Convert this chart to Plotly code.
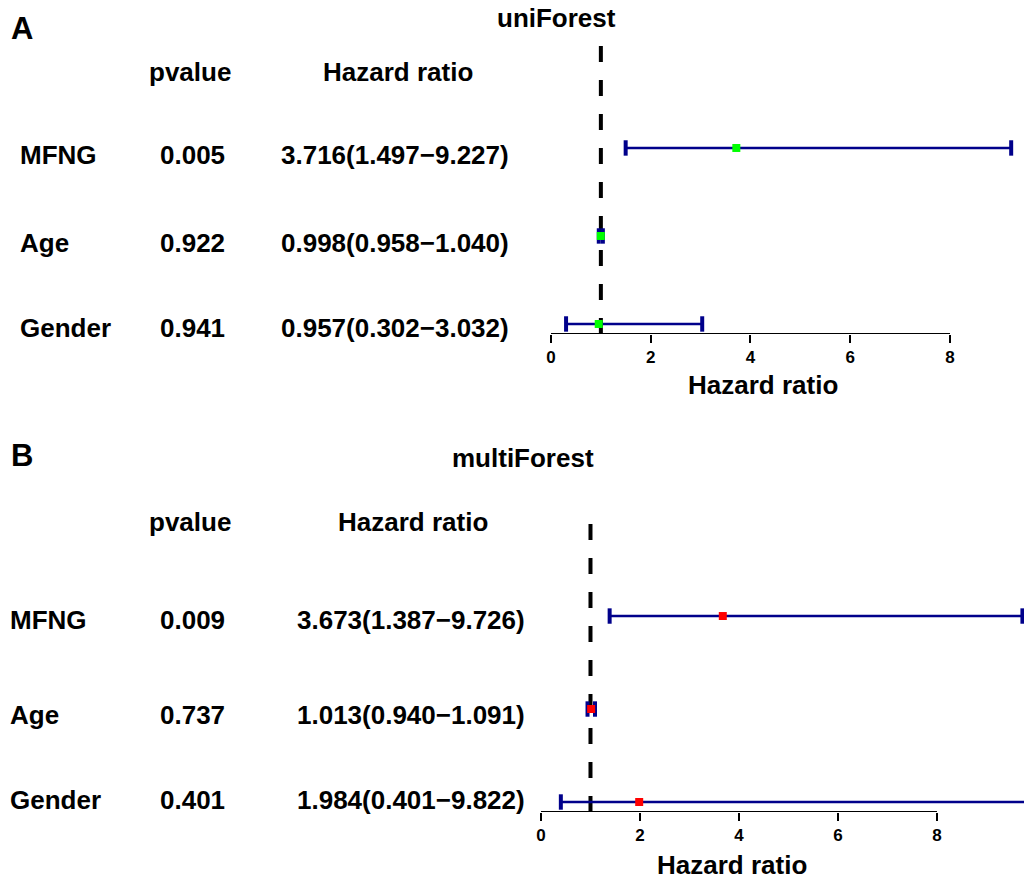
import plotly.graph_objects as go

# ---------------- data ----------------
genes = ["MFNG", "Age", "Gender"]

uni_pvalue = [0.005, 0.922, 0.941]
uni_hr = [3.716, 0.998, 0.957]
uni_low = [1.497, 0.958, 0.302]
uni_high = [9.227, 1.040, 3.032]

multi_pvalue = [0.009, 0.737, 0.401]
multi_hr = [3.673, 1.013, 1.984]
multi_low = [1.387, 0.940, 0.401]
multi_high = [9.726, 1.091, 9.822]

tick_vals = [0, 2, 4, 6, 8]
tick_text = ["0", "2", "4", "6", "8"]

W, H = 1024, 885
FONT = "Liberation Sans, Arial, Helvetica, sans-serif"
BLUE = "#00008B"
FS = 26

def px(x):
    return x / W

def py(y):
    return 1 - y / H

fig = go.Figure()

def add_forest(hr, low, high, mcolor, xa, ya):
    n = len(hr)
    ypos = list(range(n, 0, -1))
    # CI lines
    for i in range(n):
        fig.add_trace(go.Scatter(
            x=[low[i], high[i]], y=[ypos[i], ypos[i]], mode="lines",
            line=dict(color=BLUE, width=2.6), xaxis=xa, yaxis=ya,
            showlegend=False, hoverinfo="skip"))
    # caps
    fig.add_trace(go.Scatter(
        x=low + high, y=ypos + ypos, mode="markers",
        marker=dict(symbol="line-ns", size=11, line=dict(color=BLUE, width=4)),
        xaxis=xa, yaxis=ya, showlegend=False, hoverinfo="skip"))
    # points
    fig.add_trace(go.Scatter(
        x=hr, y=ypos, mode="markers",
        marker=dict(symbol="square", size=8, color=mcolor, line=dict(width=0)),
        xaxis=xa, yaxis=ya, showlegend=False, hoverinfo="skip"))

add_forest(uni_hr, uni_low, uni_high, "#00FF00", "x", "y")
add_forest(multi_hr, multi_low, multi_high, "#FF0000", "x2", "y2")

axis_common = dict(showgrid=False, zeroline=False, showline=False,
                   tickvals=tick_vals, ticktext=[f"<b>{t}</b>" for t in tick_text],
                   ticks="outside", ticklen=8, tickwidth=2, tickcolor="black",
                   tickfont=dict(family=FONT, size=17, color="black"))
yaxis_common = dict(showgrid=False, zeroline=False, showline=False,
                    showticklabels=False, ticks="")

top_yr = [0.886, 4.227]
bot_yr = [0.8925, 4.194]

fig.update_layout(
    width=W, height=H,
    margin=dict(l=0, r=0, t=0, b=0),
    paper_bgcolor="white", plot_bgcolor="white",
    xaxis=dict(domain=[px(530), 1.0], range=[-0.421, 9.484], anchor="y", **axis_common),
    yaxis=dict(domain=[py(334), py(40)], range=top_yr, anchor="x", **yaxis_common),
    xaxis2=dict(domain=[px(520), 1.0], range=[-0.424, 9.758], anchor="y2", **axis_common),
    yaxis2=dict(domain=[py(812), py(505)], range=bot_yr, anchor="x2", **yaxis_common),
)

# axis lines (0..8) and reference dashed lines
fig.add_shape(type="line", xref="x", yref="y", x0=0, x1=8, y0=top_yr[0], y1=top_yr[0],
              line=dict(color="black", width=2))
fig.add_shape(type="line", xref="x2", yref="y2", x0=0, x1=8, y0=bot_yr[0], y1=bot_yr[0],
              line=dict(color="black", width=2))
fig.add_shape(type="line", xref="x", yref="y", x0=1, x1=1, y0=top_yr[0], y1=4.17,
              line=dict(color="black", width=4, dash="16px,18px"), layer="below")
fig.add_shape(type="line", xref="x2", yref="y2", x0=1, x1=1, y0=bot_yr[0], y1=4.054,
              line=dict(color="black", width=4, dash="16px,18px"), layer="below")

def txt(s, x, y, size=FS, anchor="center"):
    fig.add_annotation(text=s, x=px(x), y=py(y), xref="paper", yref="paper",
                       xanchor=anchor, yanchor="middle", showarrow=False,
                       font=dict(family=FONT, size=size, color="black"))

def fmt_hr(h, l, u):
    return f"{h:.3f}({l:.3f}\u2212{u:.3f})"

# Panel A
txt("<b>A</b>", 9, 28, size=31, anchor="left")
txt("<b>uniForest</b>", 556, 18)
txt("<b>pvalue</b>", 190, 72)
txt("<b>Hazard ratio</b>", 398, 72)
rows_a = [155, 243, 328]
for i, g in enumerate(genes):
    txt(f"<b>{g}</b>", 18, rows_a[i], anchor="left")
    txt(f"<b>{uni_pvalue[i]:.3f}</b>", 192, rows_a[i])
    txt(f"<b>{fmt_hr(uni_hr[i], uni_low[i], uni_high[i])}</b>", 395, rows_a[i])
txt("<b>Hazard ratio</b>", 763, 385)

# Panel B
txt("<b>B</b>", 9, 455, size=31, anchor="left")
txt("<b>multiForest</b>", 523, 458)
txt("<b>pvalue</b>", 190, 522)
txt("<b>Hazard ratio</b>", 413, 522)
rows_b = [620, 715, 800]
for i, g in enumerate(genes):
    txt(f"<b>{g}</b>", 8, rows_b[i], anchor="left")
    txt(f"<b>{multi_pvalue[i]:.3f}</b>", 192, rows_b[i])
    txt(f"<b>{fmt_hr(multi_hr[i], multi_low[i], multi_high[i])}</b>", 411, rows_b[i])
txt("<b>Hazard ratio</b>", 732, 865)

fig.write_html("out.html", config={"displayModeBar": False},
               post_script="document.body.style.margin='0px';")
